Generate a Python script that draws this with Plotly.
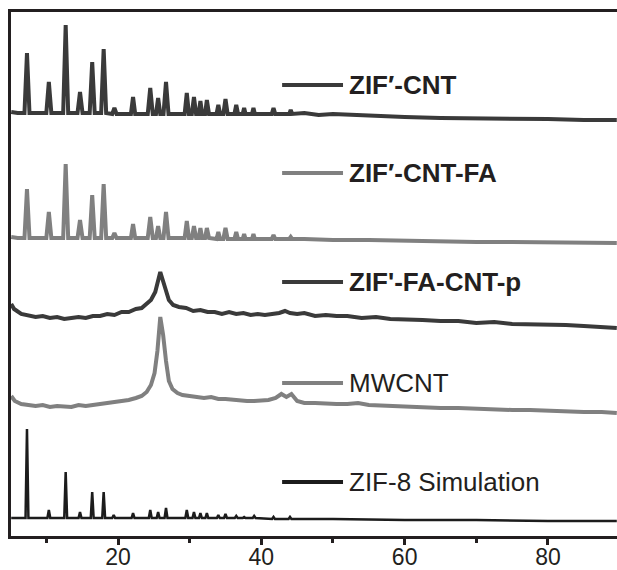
import plotly.graph_objects as go

# ---------------- data (2-theta in degrees, intensity in arbitrary units above each trace's own baseline) ----------
series_names = ["ZIF′-CNT", "ZIF′-CNT-FA", "ZIF'-FA-CNT-p", "MWCNT", "ZIF-8 Simulation"]

zc_x = [5.1, 6.0, 6.95, 7.3, 7.65, 10.0, 10.35, 10.7, 12.35, 12.7, 13.05, 14.35, 14.7, 15.05,
        16.05, 16.4, 16.75, 17.65, 18.0, 18.35, 19.2, 19.5, 19.8, 21.8, 22.1, 22.4,
        24.15, 24.5, 24.85, 25.3, 25.6, 25.9, 26.35, 26.7, 27.05, 29.3, 29.6, 29.9,
        30.3, 30.6, 30.9, 31.25, 31.5, 31.75, 32.15, 32.4, 32.7, 33.75, 34.0, 34.25,
        34.7, 35.0, 35.3, 36.25, 36.5, 36.75, 37.4, 37.6, 37.8, 38.7, 38.9, 39.1,
        41.45, 41.7, 41.95, 43.9, 44.1, 44.3, 46.0, 48.0, 50.0, 55.0, 60.0, 65.0, 70.0, 75.0, 80.0, 85.0, 89.6]
zc_y = [8, 7, 7, 67, 7, 7, 38, 7, 7, 95, 7, 7, 28, 7,
        7, 58, 7, 7, 71, 7, 6, 12, 6, 6, 23, 6,
        6, 32, 6, 6, 22, 6, 6, 38, 6, 6, 27, 6,
        6, 23, 6, 6, 19, 6, 6, 20, 6, 6, 15, 6,
        6, 21, 6, 6, 15, 6, 6, 12, 6, 6, 12, 6,
        6, 12, 6, 6, 10, 6, 7, 5, 6, 4, 3, 2, 2, 1, 1, 0, 0]

zcf_x = zc_x
zcf_y = [6, 5, 5, 54, 5, 5, 31, 5, 5, 79, 5, 5, 23, 5,
         5, 48, 5, 5, 59, 5, 5, 10, 5, 5, 19, 5,
         5, 26, 5, 5, 17, 5, 5, 31, 5, 5, 22, 5,
         5, 17, 5, 5, 15, 5, 5, 15, 5, 4, 11, 4,
         4, 15, 4, 4, 11, 4, 4, 9, 4, 4, 9, 4,
         4, 8, 4, 4, 6, 4, 4, 3, 3, 3, 2, 2, 1, 1, 1, 0, 0]

fp_x = [5.1, 5.5, 6.5, 7.5, 8.5, 9.5, 10.5, 11.5, 12.5, 13.5, 14.5, 15.5, 16.5, 17.5, 18.5, 19.5,
        20.5, 21.5, 22.5, 23.3, 24.0, 24.6, 25.2, 25.6, 25.9, 26.2, 26.6, 27.1, 27.7, 28.5,
        29.5, 30.5, 31.5, 32.5, 33.5, 34.5, 35.5, 36.5, 37.5, 38.5, 39.5, 40.5, 41.5, 42.5,
        43.3, 44.0, 45.0, 46.0, 47.5, 49.0, 50.5, 52.0, 54.0, 56.0, 58.0, 60.0, 62.5, 65.0,
        67.5, 70.0, 72.5, 75.0, 77.5, 80.0, 82.5, 85.0, 87.5, 89.6]
fp_y = [24, 19, 14, 13, 11, 12, 10, 11, 9, 10, 11, 10, 12, 12, 14, 13,
        16, 16, 19, 20, 24, 28, 36, 47, 56, 49, 38, 28, 23, 21,
        20, 17, 18, 16, 16, 14, 16, 14, 15, 13, 14, 13, 14, 15,
        17, 15, 14, 15, 12, 13, 12, 12, 10, 11, 9, 9, 8, 7,
        7, 5, 6, 4, 4, 3, 3, 2, 1, 0]

mw_x = [5.1, 5.6, 6.5, 7.5, 8.5, 9.5, 10.5, 11.5, 12.5, 13.5, 14.5, 15.5, 16.5, 17.5, 18.5, 19.5,
        20.5, 21.5, 22.5, 23.3, 24.0, 24.6, 25.1, 25.5, 25.9, 26.3, 26.7, 27.1, 27.6, 28.3,
        29.0, 30.0, 31.0, 32.0, 33.0, 34.0, 35.0, 36.0, 37.0, 38.0, 39.0, 40.0, 41.0, 42.0,
        42.8, 43.5, 44.2, 45.0, 46.0, 47.5, 49.0, 50.5, 52.0, 53.5, 55.0, 57.5, 60.0, 62.5,
        65.0, 67.5, 70.0, 72.5, 75.0, 77.5, 80.0, 82.5, 85.0, 87.5, 89.6]
mw_y = [17, 12, 9, 8, 7, 8, 6, 7, 7, 6, 8, 7, 8, 9, 10, 10,
        12, 13, 15, 17, 21, 28, 40, 62, 96, 78, 52, 32, 24, 20,
        18, 17, 16, 15, 16, 14, 14, 13, 13, 12, 12, 12, 13, 15,
        19, 16, 19, 12, 10, 10, 9, 9, 9, 10, 8, 7, 6, 6,
        5, 5, 4, 4, 3, 3, 2, 2, 1, 1, 0]

sim_x = [5.1, 7.1, 7.3, 7.5, 10.15, 10.35, 10.55, 12.5, 12.7, 12.9, 14.5, 14.7, 14.9,
         16.2, 16.4, 16.6, 17.8, 18.0, 18.2, 19.2, 19.4, 19.6, 21.9, 22.1, 22.3,
         24.3, 24.5, 24.7, 25.4, 25.6, 25.8, 26.5, 26.7, 26.9, 29.4, 29.6, 29.8,
         30.4, 30.6, 30.8, 31.3, 31.5, 31.7, 32.2, 32.4, 32.6, 33.8, 34.0, 34.2,
         34.8, 35.0, 35.2, 36.3, 36.5, 36.7, 37.4, 37.6, 37.8, 38.8, 39.0, 39.2,
         41.5, 41.7, 41.9, 43.8, 44.0, 44.2, 50.0, 60.0, 70.0, 80.0, 89.6]
sim_y = [3, 3, 92, 3, 3, 11, 3, 3, 49, 3, 3, 9, 3,
         3, 29, 3, 3, 29, 3, 3, 6, 3, 3, 8, 3,
         3, 11, 3, 3, 9, 3, 3, 13, 3, 3, 11, 3,
         3, 9, 3, 3, 8, 3, 3, 8, 3, 3, 6, 3,
         3, 7, 3, 3, 5, 3, 3, 4, 3, 3, 5, 3,
         2, 4, 2, 2, 4, 2, 2, 1, 1, 0, 0]

offsets = [416, 293, 208, 123, 15]   # vertical stacking offsets
xs = [zc_x, zcf_x, fp_x, mw_x, sim_x]
ys = [zc_y, zcf_y, fp_y, mw_y, sim_y]

tick_vals = [20, 40, 60, 80]
tick_text = ["20", "40", "60", "80"]

# ---------------- style ----------------
colors = ["#3a3a3a", "#808080", "#3a3a3a", "#808080", "#1c1c1c"]
widths = [4, 4, 4, 4, 2.5]
bold = [True, True, True, False, False]
label_y = [451, 363, 254, 153, 54]
seg_x0, seg_x1, text_x = 42.9, 51.4, 52.0
axis_col = "#231f20"
font_family = "Liberation Sans, Arial, sans-serif"

fig = go.Figure()
for name, x, y, off, c, w in zip(series_names, xs, ys, offsets, colors, widths):
    fig.add_trace(go.Scatter(x=x, y=[v + off for v in y], mode="lines", name=name,
                             line=dict(color=c, width=w), hoverinfo="skip"))

for name, c, ly, b in zip(series_names, colors, label_y, bold):
    fig.add_shape(type="line", xref="x", yref="y", x0=seg_x0, x1=seg_x1, y0=ly, y1=ly,
                  line=dict(color=c, width=4))
    fig.add_annotation(x=text_x, y=ly, xref="x", yref="y", text=f"<b>{name}</b>" if b else name,
                       showarrow=False, xanchor="left", yanchor="middle",
                       font=dict(family=font_family, size=26, color=axis_col))

fig.update_layout(
    width=617, height=570,
    margin=dict(l=11, r=0, t=12, b=34, autoexpand=False),
    plot_bgcolor="white", paper_bgcolor="white",
    showlegend=False,
    font=dict(family=font_family, color=axis_col),
)
fig.update_xaxes(range=[5.07, 89.63], showline=True, linewidth=3, linecolor=axis_col, mirror=True,
                 automargin=False,
                 ticks="outside", ticklen=6, tickwidth=3, tickcolor=axis_col,
                 ticklabelstandoff=-8,
                 tickvals=tick_vals, ticktext=tick_text,
                 minor=dict(ticks="outside", ticklen=4, tickwidth=3, tickcolor=axis_col,
                            tickvals=[10, 30, 50, 70]),
                 showgrid=False, zeroline=False,
                 tickfont=dict(family=font_family, size=23, color=axis_col))
fig.update_yaxes(range=[0, 524], showline=True, linewidth=3, linecolor=axis_col, automargin=False,
                 showticklabels=False, ticks="", showgrid=False, zeroline=False)

fig.write_html("out.html")
